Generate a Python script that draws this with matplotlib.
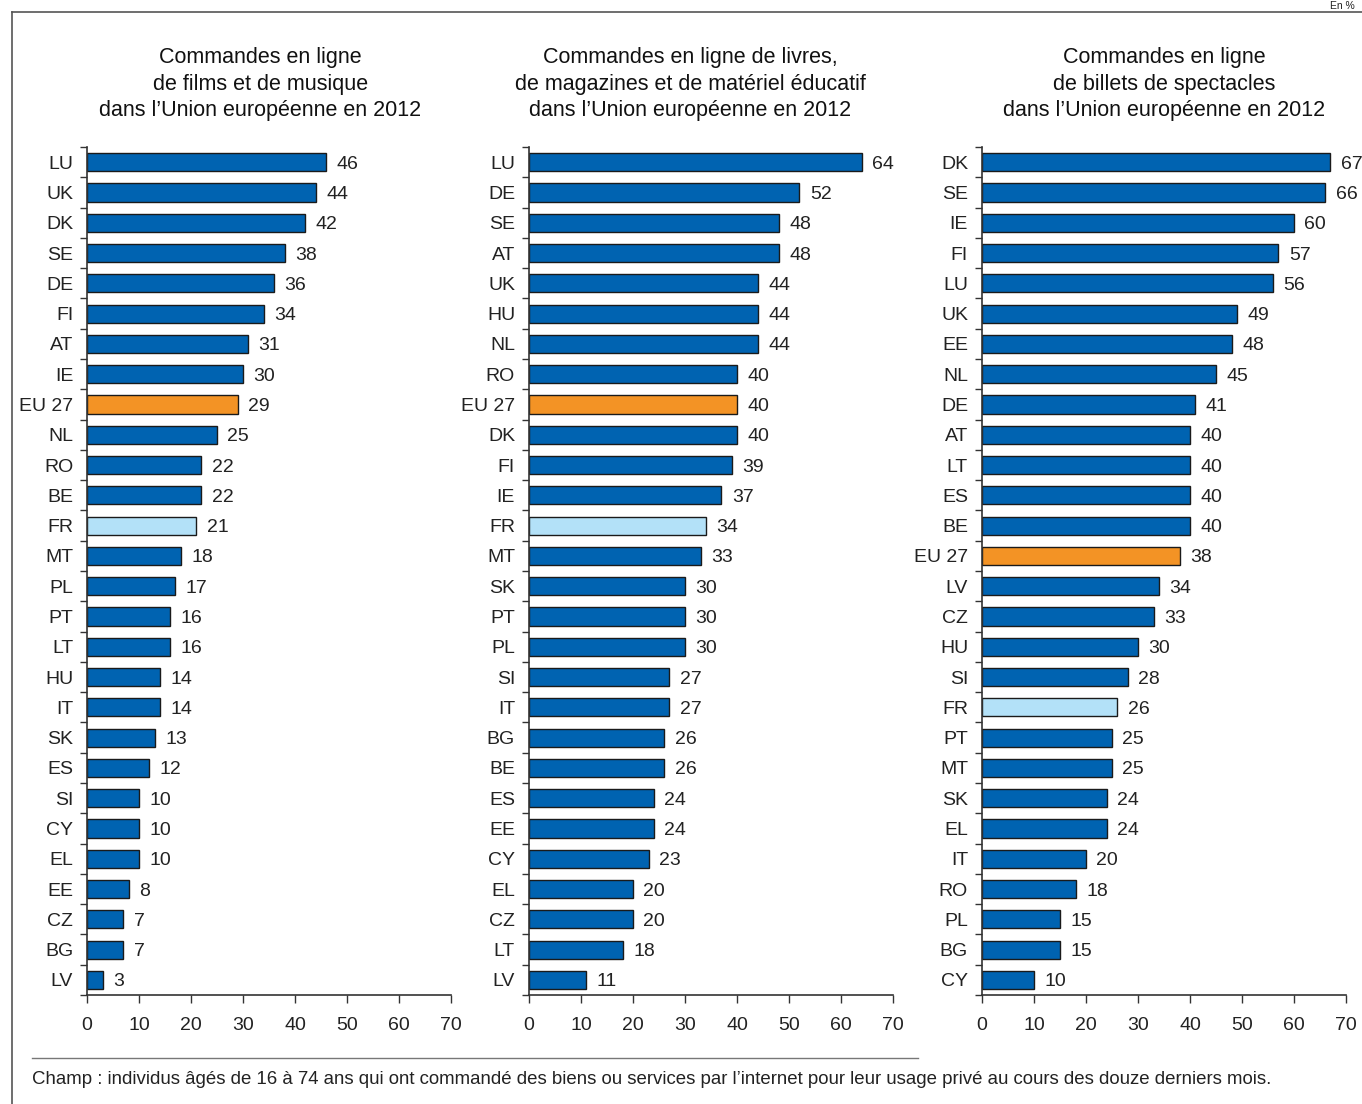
import matplotlib
matplotlib.use('Agg')
import matplotlib.pyplot as plt
from matplotlib.lines import Line2D

# data (percent)
films_pays = ['LU', 'UK', 'DK', 'SE', 'DE', 'FI', 'AT', 'IE', 'EU 27', 'NL', 'RO', 'BE', 'FR', 'MT',
              'PL', 'PT', 'LT', 'HU', 'IT', 'SK', 'ES', 'SI', 'CY', 'EL', 'EE', 'CZ', 'BG', 'LV']
films_val = [46, 44, 42, 38, 36, 34, 31, 30, 29, 25, 22, 22, 21, 18,
             17, 16, 16, 14, 14, 13, 12, 10, 10, 10, 8, 7, 7, 3]

livres_pays = ['LU', 'DE', 'SE', 'AT', 'UK', 'HU', 'NL', 'RO', 'EU 27', 'DK', 'FI', 'IE', 'FR', 'MT',
               'SK', 'PT', 'PL', 'SI', 'IT', 'BG', 'BE', 'ES', 'EE', 'CY', 'EL', 'CZ', 'LT', 'LV']
livres_val = [64, 52, 48, 48, 44, 44, 44, 40, 40, 40, 39, 37, 34, 33,
              30, 30, 30, 27, 27, 26, 26, 24, 24, 23, 20, 20, 18, 11]

billets_pays = ['DK', 'SE', 'IE', 'FI', 'LU', 'UK', 'EE', 'NL', 'DE', 'AT', 'LT', 'ES', 'BE', 'EU 27',
                'LV', 'CZ', 'HU', 'SI', 'FR', 'PT', 'MT', 'SK', 'EL', 'IT', 'RO', 'PL', 'BG', 'CY']
billets_val = [67, 66, 60, 57, 56, 49, 48, 45, 41, 40, 40, 40, 40, 38,
               34, 33, 30, 28, 26, 25, 25, 24, 24, 20, 18, 15, 15, 10]

titres = ["Commandes en ligne\nde films et de musique\ndans l\u2019Union europ\u00e9enne en 2012",
          "Commandes en ligne de livres,\nde magazines et de mat\u00e9riel \u00e9ducatif\ndans l\u2019Union europ\u00e9enne en 2012",
          "Commandes en ligne\nde billets de spectacles\ndans l\u2019Union europ\u00e9enne en 2012"]

note = ("Champ : individus \u00e2g\u00e9s de 16 \u00e0 74 ans qui ont command\u00e9 des biens ou services "
        "par l\u2019internet pour leur usage priv\u00e9 au cours des douze derniers mois.")

BLEU = '#0063b1'
ORANGE = '#f39325'
CLAIR = '#b3e1f8'
SANS = ['Liberation Sans', 'DejaVu Sans']

fig = plt.figure(figsize=(13.62, 11.04), dpi=100)

lefts = [0.0639, 0.3884, 0.7210]
title_x = [0.191, 0.507, 0.855]
panels = [(films_pays, films_val), (livres_pays, livres_val), (billets_pays, billets_val)]

for i, (pays, vals) in enumerate(panels):
    ax = fig.add_axes([lefts[i], 0.0987, 0.2673, 0.7681])
    n = len(pays)
    ypos = list(range(n))
    couleurs = [ORANGE if p == 'EU 27' else CLAIR if p == 'FR' else BLEU for p in pays]
    ax.barh(ypos, vals, height=0.6, color=couleurs, edgecolor='#1a1a1a', linewidth=1.0)
    for y, v in zip(ypos, vals):
        ax.annotate(str(v), (v, y), xytext=(7.5, 0), textcoords='offset points',
                    va='center_baseline', ha='left', fontsize=14, family=SANS, color='#222222')
    ax.set_xlim(0, 70)
    ax.set_ylim(n - 0.5, -0.5)
    ax.set_yticks(ypos)
    ax.set_yticklabels(pays, family=SANS, fontsize=14, color='#222222')
    ax.set_yticks([k - 0.5 for k in range(n + 1)], minor=True)
    ax.tick_params(axis='y', which='major', length=0, pad=10)
    ax.tick_params(axis='y', which='minor', length=5, width=1, direction='out', color='#333333')
    ax.set_xticks(range(0, 71, 10))
    ax.set_xticklabels([str(t) for t in range(0, 71, 10)], family=SANS, fontsize=14, color='#222222')
    ax.tick_params(axis='x', length=6, width=1, direction='out', color='#333333', pad=10)
    for s in ['top', 'right']:
        ax.spines[s].set_visible(False)
    for s in ['left', 'bottom']:
        ax.spines[s].set_color('#333333')
        ax.spines[s].set_linewidth(1.2)
    fig.text(title_x[i], 0.957, titres[i], ha='center', va='top', multialignment='center',
             fontsize=15.5, family=SANS, color='#111111', linespacing=1.32)

# frame lines and footnote
fig.add_artist(Line2D([12 / 1362, 12 / 1362], [0, 1 - 12 / 1104], transform=fig.transFigure,
                      color='#555555', lw=1.2))
fig.add_artist(Line2D([12 / 1362, 1], [1 - 12 / 1104, 1 - 12 / 1104], transform=fig.transFigure,
                      color='#555555', lw=1.2))
fig.add_artist(Line2D([32 / 1362, 918 / 1362], [1 - 1058 / 1104, 1 - 1058 / 1104],
                      transform=fig.transFigure, color='#777777', lw=1.0))
fig.text(32 / 1362, 1 - 1080 / 1104, note, ha='left', va='center', fontsize=13.4,
         family=SANS, color='#222222')
fig.text(0.995, 1 - 11 / 1104, 'En %', ha='right', va='bottom', fontsize=7.5, family=SANS,
         color='#222222')

plt.savefig('out.png', dpi=100)
